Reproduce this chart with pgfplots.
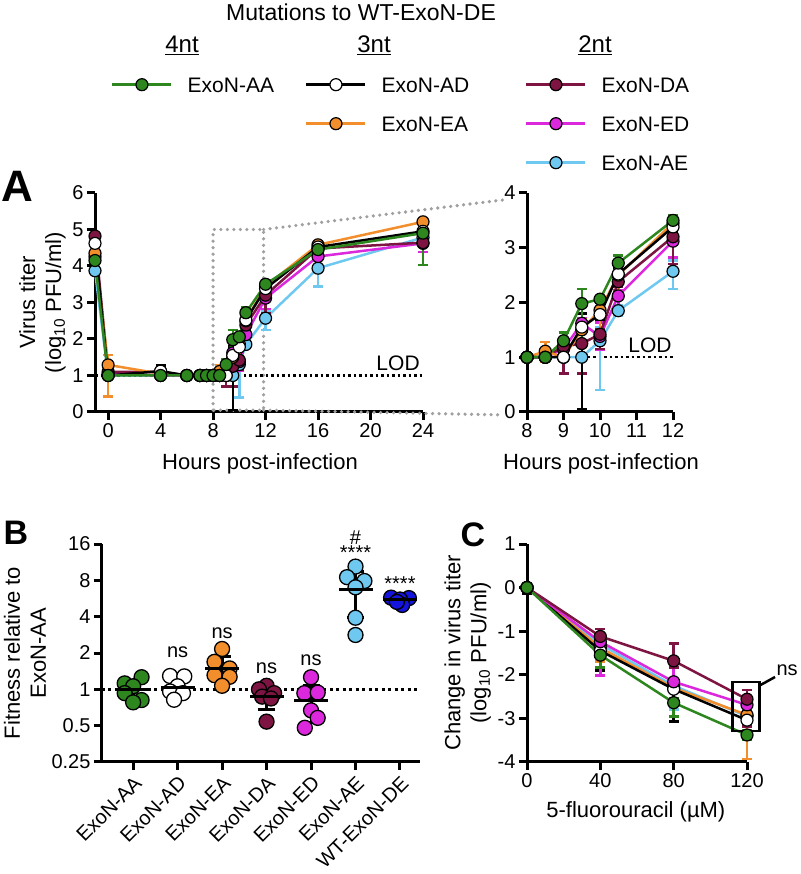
\documentclass[border=0pt]{standalone}
\usepackage{fontspec}
\setmainfont{Liberation Sans}
\usepackage{pgfplots}
\pgfplotsset{compat=1.18}
\usepackage{pgfplotstable}
\usetikzlibrary{plotmarks}

\definecolor{cAA}{RGB}{45,135,30}
\definecolor{cEA}{RGB}{242,142,43}
\definecolor{cDA}{RGB}{125,20,65}
\definecolor{cED}{RGB}{220,40,220}
\definecolor{cAE}{RGB}{110,200,240}
\definecolor{cWT}{RGB}{20,20,220}
\definecolor{zoomgray}{RGB}{160,160,160}

% growth curves (panel A): hours, log10 titer, err+, err-
\pgfplotstableread{
x y ep em
-1 4.15 0.1 0.1
0 1.0 0 0
4 1.0 0 0
6 1.0 0 0
7 1.0 0 0
7.5 1.0 0 0
8 1.0 0 0
8.5 1.0 0 0
9 1.30 0.15 0.1
9.5 1.98 0.27 0.75
10 2.06 0.05 0.05
10.5 2.72 0.14 0.14
12 3.50 0.1 0.1
16 4.45 0.15 0.2
24 4.90 0.1 0.87
}\tAA
\pgfplotstableread{
x y ep em
-1 4.62 0 0
0 1.0 0.05 0.05
4 1.12 0.15 0.2
6 1.0 0 0
7 1.0 0 0
7.5 1.0 0 0
8 1.0 0 0
8.5 1.0 0 0
9 1.0 0 0
9.5 1.55 0.25 1.5
10 1.78 0.1 0.1
10.5 2.52 0.1 0.1
12 3.38 0.1 0.1
16 4.52 0.1 0.1
24 4.95 0.05 0.05
}\tAD
\pgfplotstableread{
x y ep em
-1 4.35 0 0
0 1.29 0.27 0.87
4 1.05 0 0
6 1.0 0 0
7 1.0 0 0
7.5 1.0 0 0
8 1.0 0 0
8.5 1.11 0.17 0.2
9 1.0 0 0
9.5 1.5 0.2 0.2
10 1.86 0.05 0.45
10.5 2.5 0.05 0.45
12 3.45 0.1 0.1
16 4.58 0.05 0.05
24 5.21 0.08 0.08
}\tEA
\pgfplotstableread{
x y ep em
-1 4.82 0 0
0 1.1 0.05 0.2
4 1.1 0 0
6 1.0 0 0
7 1.0 0 0
7.5 1.0 0 0
8 1.0 0 0
8.5 1.0 0 0
9 1.2 0.25 0.5
9.5 1.25 0.4 0.55
10 1.42 0.1 0.27
10.5 2.38 0.1 0.1
12 3.2 0.1 0.5
16 4.48 0.08 0.08
24 4.64 0.1 0.1
}\tDA
\pgfplotstableread{
x y ep em
-1 4.25 0 0
0 1.05 0 0
4 1.0 0 0
6 1.0 0 0
7 1.0 0 0
7.5 1.0 0 0
8 1.0 0 0
8.5 1.0 0 0
9 1.15 0.1 0.1
9.5 1.62 0.1 0.1
10 1.38 0.25 0.25
10.5 2.12 0.1 0.3
12 3.12 0.2 0.3
16 4.26 0.08 0.08
24 4.62 0.05 0.23
}\tED
\pgfplotstableread{
x y ep em
-1 3.87 0 0
0 1.0 0 0
4 1.0 0 0
6 1.0 0 0
7 1.0 0 0
7.5 1.0 0 0
8 1.0 0 0
8.5 1.0 0 0
9 1.0 0 0
9.5 1.0 0 0
10 1.3 0.25 0.9
10.5 1.85 0.1 0.1
12 2.57 0.2 0.32
16 3.94 0.25 0.5
24 4.78 0.05 0.4
}\tAE

% fitness (panel B): replicate points and mean/SD
\pgfplotstableread{
x y
-0.19 1.12
0.19 1.26
0.0 1.06
-0.19 0.93
0.19 0.815
0.0 0.78
}\bAA
\pgfplotstableread{
x y
0.83 1.29
1.15 1.28
1.0 1.06
0.83 0.96
1.12 0.93
0.92 0.82
}\bAD
\pgfplotstableread{
x y
2.0 2.16
1.83 1.69
2.17 1.49
1.83 1.31
2.17 1.27
2.0 1.07
}\bEA
\pgfplotstableread{
x y
3.0 1.07
2.83 1.0
3.17 0.93
2.9 0.87
3.1 0.84
3.0 0.54
}\bDA
\pgfplotstableread{
x y
4.0 1.26
3.85 0.93
4.15 0.94
4.0 0.67
4.15 0.58
3.86 0.48
}\bED
\pgfplotstableread{
x y
5.0 10.4
4.81 8.5
5.2 7.9
5.0 7.0
5.0 3.92
5.0 2.82
}\bAE
\pgfplotstableread{
x y
5.8 5.75
6.2 5.7
6.0 5.55
6.05 5.0
5.93 5.3
}\bWT
\pgfplotstableread{
x y ep em
0 1.0 0.19 0.16
1 1.03 0.16 0.17
2 1.49 0.37 0.30
3 0.875 0.13 0.19
4 0.81 0.27 0.28
5 6.76 2.68 2.84
6 5.5 0.3 0.3
}\bMean

% 5-FU sensitivity (panel C)
\pgfplotstableread{
x y ep em
0 0 0.1 0.1
40 -1.55 0.1 0.28
80 -2.64 0.1 0.32
120 -3.38 0.1 0.1
}\cAA
\pgfplotstableread{
x y ep em
0 0 0.1 0.15
40 -1.45 0.1 0.45
80 -2.33 0.1 0.74
120 -3.04 0.1 0.1
}\cAD
\pgfplotstableread{
x y ep em
0 0 0.05 0.05
40 -1.38 0.1 0.32
80 -2.3 0.1 0.25
120 -2.92 0.25 1.01
}\cEA
\pgfplotstableread{
x y ep em
0 0 0.05 0.05
40 -1.12 0.17 0.15
80 -1.68 0.4 0.15
120 -2.56 0.21 0.63
}\cDA
\pgfplotstableread{
x y ep em
0 0 0.05 0.05
40 -1.24 0.1 0.78
80 -2.16 0.34 0.1
120 -2.69 0.15 0.15
}\cED
\pgfplotstableread{
x y ep em
0 0 0.05 0.05
40 -1.3 0.1 0.1
80 -2.25 0.1 0.55
120 -2.95 0.1 0.1
}\cAE

\tikzset{
  sr/.style 2 args={color=#1, line width=2.5pt, mark=*, mark size=6pt,
    mark options={fill=#2, draw=black, line width=1.2pt, solid}},
  pt/.style={mark=*, mark size=7.5pt, mark options={fill=#1, draw=black, line width=1.3pt}},
  zoomdots/.style={zoomgray, line width=3.6pt, dash pattern=on 0pt off 6.5pt, line cap=round},
}
\pgfplotsset{
  gp/.style={scale only axis, anchor=south west, axis lines*=left,
    axis line style={line width=3pt, -}, tick align=outside,
    major tick length=8pt, tick style={line width=3pt, black},
    tick label style={font=\fontsize{20}{24}\selectfont},
    label style={font=\fontsize{22}{26}\selectfont},
    clip=false, /pgf/number format/assume math mode=true},
  eb/.style={error bars/.cd, y dir=both, y explicit,
    error bar style={line width=2.5pt},
    error mark options={rotate=90, line width=2.5pt, mark size=5pt}},
  table/tab/.style={x=x, y=y, y error plus=ep, y error minus=em},
  hidden/.style={hide axis, scale only axis, width=1pt, height=1pt,
    xmin=0, xmax=1, ymin=0, ymax=1, anchor=south west,
    legend style={at={(0,0)}, anchor=north west, draw=none, fill=none,
      inner sep=0pt, row sep=24pt, font=\fontsize{21}{25}\selectfont,
      nodes={inner sep=0pt, text height=15pt, text depth=0pt},
      /tikz/every odd column/.append style={column sep=15pt}},
    legend cell align=left,
    legend image code/.code={\draw[mark repeat=2, mark phase=2, ##1]
      plot coordinates {(0pt,0pt) (29.5pt,0pt) (59pt,0pt)};}},
}

\begin{document}
\begin{tikzpicture}
\path[use as bounding box] (0,0) rectangle (800pt,874pt);

% title, group headers, panel letters
\node[font=\fontsize{23}{27}\selectfont, inner sep=0pt] at (361pt,862pt) {Mutations to WT-ExoN-DE};
\node[font=\fontsize{24}{28}\selectfont, anchor=base, inner sep=0pt] at (182pt,821pt) {\underline{4nt}};
\node[font=\fontsize{24}{28}\selectfont, anchor=base, inner sep=0pt] at (374pt,821pt) {\underline{3nt}};
\node[font=\fontsize{24}{28}\selectfont, anchor=base, inner sep=0pt] at (595pt,821pt) {\underline{2nt}};
\node[font=\bfseries\fontsize{44}{44}\selectfont, inner sep=0pt] at (17pt,688pt) {A};
\node[font=\bfseries\fontsize{34}{34}\selectfont, inner sep=0pt] at (16pt,341pt) {B};
\node[font=\bfseries\fontsize{34}{34}\selectfont, inner sep=0pt] at (473pt,339pt) {C};

% legend, one column per group
\begin{axis}[hidden, at={(111pt,797pt)}]
\addlegendimage{sr={cAA}{cAA}}\addlegendentry{ExoN-AA}
\end{axis}
\begin{axis}[hidden, at={(305pt,797pt)}]
\addlegendimage{sr={black}{white}}\addlegendentry{ExoN-AD}
\addlegendimage{sr={cEA}{cEA}}\addlegendentry{ExoN-EA}
\end{axis}
\begin{axis}[hidden, at={(525pt,797pt)}]
\addlegendimage{sr={cDA}{cDA}}\addlegendentry{ExoN-DA}
\addlegendimage{sr={cED}{cED}}\addlegendentry{ExoN-ED}
\addlegendimage{sr={cAE}{cAE}}\addlegendentry{ExoN-AE}
\end{axis}

% Panel A, full time course
\begin{axis}[gp, at={(95pt,462pt)}, width=328pt, height=219pt,
  xmin=-1, xmax=24, ymin=0, ymax=6,
  xtick={0,4,...,24}, ytick={0,...,6},
  xlabel={Hours post-infection},
  ylabel={Virus titer\\(log\textsubscript{10} PFU/ml)},
  ylabel style={align=center, at={(axis description cs:-0.16,0.5)}, anchor=center},
  xlabel style={at={(axis description cs:0.503,-0.237)}, anchor=center}]
\draw[zoomdots] (axis cs:8,0.05) rectangle (axis cs:11.85,5);
\draw[zoomdots] (axis cs:11.85,5) -- (axis cs:30.1,5.81);
\draw[zoomdots] (axis cs:11.85,0.05) -- (axis cs:30.1,-0.08);
\addplot[black, line width=2.5pt, dash pattern=on 2.5pt off 3pt] coordinates {(-1,1) (24,1)};
\node[font=\fontsize{21}{25}\selectfont] at (axis cs:22.1,1.34) {LOD};
\addplot[sr={cAE}{cAE}, eb] table[tab] \tAE;
\addplot[sr={cED}{cED}, eb] table[tab] \tED;
\addplot[sr={cDA}{cDA}, eb] table[tab] \tDA;
\addplot[sr={cEA}{cEA}, eb] table[tab] \tEA;
\addplot[sr={black}{white}, eb] table[tab] \tAD;
\addplot[sr={cAA}{cAA}, eb] table[tab] \tAA;
\end{axis}

% Panel A, 8-12 h enlarged
\begin{axis}[gp, at={(527pt,462pt)}, width=146pt, height=219pt,
  xmin=8, xmax=12, ymin=0, ymax=4,
  xtick={8,...,12}, ytick={0,...,4},
  xlabel={Hours post-infection},
  xlabel style={at={(axis description cs:0.507,-0.237)}, anchor=center}]
\addplot[black, line width=2.5pt, dash pattern=on 2.5pt off 3pt] coordinates {(8,1) (12,1)};
\node[font=\fontsize{21}{25}\selectfont] at (axis cs:11.37,1.22) {LOD};
\addplot[sr={cAE}{cAE}, restrict x to domain=8:12, eb] table[tab] \tAE;
\addplot[sr={cED}{cED}, restrict x to domain=8:12, eb] table[tab] \tED;
\addplot[sr={cDA}{cDA}, restrict x to domain=8:12, eb] table[tab] \tDA;
\addplot[sr={cEA}{cEA}, restrict x to domain=8:12, eb] table[tab] \tEA;
\addplot[sr={black}{white}, restrict x to domain=8:12, eb] table[tab] \tAD;
\addplot[sr={cAA}{cAA}, restrict x to domain=8:12, eb] table[tab] \tAA;
\end{axis}

% Panel B
\begin{axis}[gp, at={(102pt,112pt)}, width=318pt, height=218pt,
  ymode=log, log basis y=2,
  xmin=-0.7, xmax=6.45, ymin=0.25, ymax=16,
  ytick={0.25,0.5,1,2,4,8,16}, yticklabels={0.25,0.5,1,2,4,8,16},
  xtick={0,...,6},
  xticklabels={ExoN-AA,ExoN-AD,ExoN-EA,ExoN-DA,ExoN-ED,ExoN-AE,WT-ExoN-DE},
  xticklabel style={rotate=45, anchor=north east},
  ylabel={Fitness relative to\\ExoN-AA},
  ylabel style={align=center, at={(axis description cs:-0.242,0.5)}, anchor=center}]
\addplot[black, line width=3pt, dash pattern=on 3pt off 3.5pt] coordinates {(-0.7,1) (6.45,1)};
\addplot[only marks, pt=cAA] table[x=x,y=y] \bAA;
\addplot[only marks, pt=white] table[x=x,y=y] \bAD;
\addplot[only marks, pt=cEA] table[x=x,y=y] \bEA;
\addplot[only marks, pt=cDA] table[x=x,y=y] \bDA;
\addplot[only marks, pt=cED] table[x=x,y=y] \bED;
\addplot[only marks, pt=cAE] table[x=x,y=y] \bAE;
\addplot[only marks, pt=cWT] table[x=x,y=y] \bWT;
\addplot[only marks, black, mark=-, mark size=17pt, mark options={line width=3pt},
  error bars/.cd, y dir=both, y explicit, error bar style={line width=3pt},
  error mark options={rotate=90, line width=3pt, mark size=8.5pt}] table[tab] \bMean;
\begin{scope}[font=\fontsize{20}{24}\selectfont]
\node at (axis cs:1,2.03) {ns};
\node at (axis cs:2,2.9) {ns};
\node at (axis cs:3,1.49) {ns};
\node at (axis cs:4,1.75) {ns};
\node at (axis cs:5,13.6) {****};
\node at (axis cs:5,18.2) {\#};
\node at (axis cs:6,7.56) {****};
\end{scope}
\end{axis}

% Panel C
\begin{axis}[gp, at={(527pt,112pt)}, width=220pt, height=218pt,
  xmin=0, xmax=120, ymin=-4, ymax=1,
  xtick={0,40,80,120}, ytick={-4,...,1}, yticklabels={-4,-3,-2,-1,0,1},
  xlabel={5-fluorouracil (µM)},
  ylabel={Change in virus titer\\(log\textsubscript{10} PFU/ml)},
  ylabel style={align=center, at={(axis description cs:-0.27,0.5)}, anchor=center},
  xlabel style={at={(axis description cs:0.495,-0.23)}, anchor=center}]
\addplot[sr={cAE}{cAE}, eb] table[tab] \cAE;
\addplot[sr={cEA}{cEA}, eb] table[tab] \cEA;
\addplot[sr={black}{white}, eb] table[tab] \cAD;
\addplot[sr={cED}{cED}, eb] table[tab] \cED;
\addplot[sr={cDA}{cDA}, eb] table[tab] \cDA;
\addplot[sr={cAA}{cAA}, eb] table[tab] \cAA;
\draw[black, line width=2.5pt] (axis cs:112,-2.17) rectangle (axis cs:126.7,-3.29);
\draw[black, line width=2.5pt] (axis cs:126.7,-2.25) -- (axis cs:135.3,-2.05);
\node[font=\fontsize{20}{24}\selectfont, anchor=west, inner sep=1pt] at (axis cs:135.5,-1.89) {ns};
\end{axis}
\end{tikzpicture}
\end{document}
